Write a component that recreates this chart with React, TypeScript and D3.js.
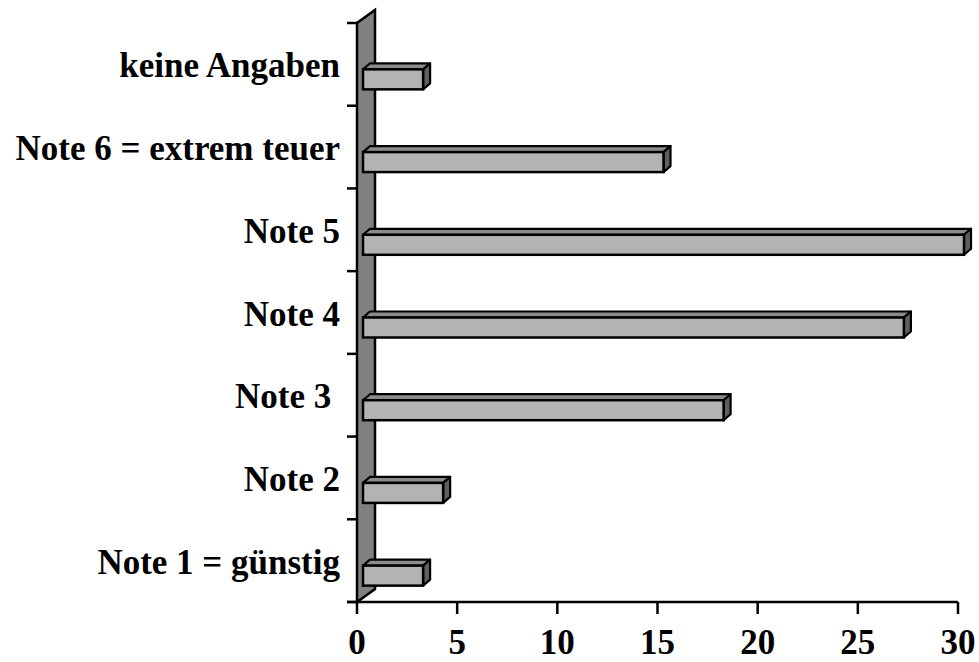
import React from "react";
import * as d3 from "d3";

const categories = [
  "Note 1 = günstig",
  "Note 2",
  "Note 3\u00a0",
  "Note 4",
  "Note 5",
  "Note 6 = extrem teuer",
  "keine Angaben",
];
const values = [3, 4, 18, 27, 30, 15, 3];
const xTicks = [0, 5, 10, 15, 20, 25, 30];

const W = 979;
const H = 662;

export default function App() {
  const x = d3.scaleLinear().domain([0, 30]).range([357, 958]);
  const y = d3.scaleBand<string>().domain(categories).range([602, 23]).padding(0);
  const x0 = x(0);
  const wallDx = 18;
  const wallDy = 13;
  const fontFamily = "'Liberation Serif', 'Times New Roman', serif";

  const bounds = categories.map((c) => y(c)!).concat([y.range()[0]]);
  const barFrontDx = 6;
  const barDepthX = 7;
  const barDepthY = 6;
  const barH = 20;

  return (
    <svg width={W} height={H} style={{ display: "block", position: "absolute", left: 0, top: 0 }}>
      <rect width={W} height={H} fill="#ffffff" />
      <polygon
        points={`${x0},602 ${x0},23 ${x0 + wallDx},${23 - wallDy} ${x0 + wallDx},${602 - wallDy}`}
        fill="#808080"
        stroke="#000"
        strokeWidth={2.5}
        strokeLinejoin="miter"
      />
      {bounds.map((b, i) => (
        <line key={"ct" + i} x1={x0 - 10} x2={x0} y1={b} y2={b} stroke="#000" strokeWidth={2.5} />
      ))}
      <line x1={x0 - 10} x2={x(30)} y1={602} y2={602} stroke="#000" strokeWidth={2.5} />
      {xTicks.map((t) => (
        <g key={"xt" + t}>
          <line x1={x(t)} x2={x(t)} y1={602} y2={614} stroke="#000" strokeWidth={2.5} />
          <text
            x={x(t)}
            y={654}
            textAnchor="middle"
            fontFamily={fontFamily}
            fontWeight="bold"
            fontSize={35}
            fill="#000"
          >
            {t}
          </text>
        </g>
      ))}
      {categories.map((c, i) => {
        const center = y(c)! + y.bandwidth() / 2;
        const fy = center + 5;
        const fx0 = x0 + barFrontDx;
        const fx1 = x(values[i]) + barFrontDx;
        return (
          <g key={"bar" + i}>
            <polygon
              points={`${fx0},${fy} ${fx0 + barDepthX},${fy - barDepthY} ${fx1 + barDepthX},${fy - barDepthY} ${fx1},${fy}`}
              fill="#8c8c8c"
              stroke="#000"
              strokeWidth={2.2}
              strokeLinejoin="round"
            />
            <polygon
              points={`${fx1},${fy} ${fx1 + barDepthX},${fy - barDepthY} ${fx1 + barDepthX},${fy - barDepthY + barH} ${fx1},${fy + barH}`}
              fill="#5f5f5f"
              stroke="#000"
              strokeWidth={2.2}
              strokeLinejoin="round"
            />
            <rect x={fx0} y={fy} width={fx1 - fx0} height={barH} fill="#b3b3b3" stroke="#000" strokeWidth={2.5} />
            <text
              x={340}
              y={center + 13}
              textAnchor="end"
              fontFamily={fontFamily}
              fontWeight="bold"
              fontSize={35}
              fill="#000"
              style={{ whiteSpace: "pre" }}
            >
              {c}
            </text>
          </g>
        );
      })}
    </svg>
  );
}
